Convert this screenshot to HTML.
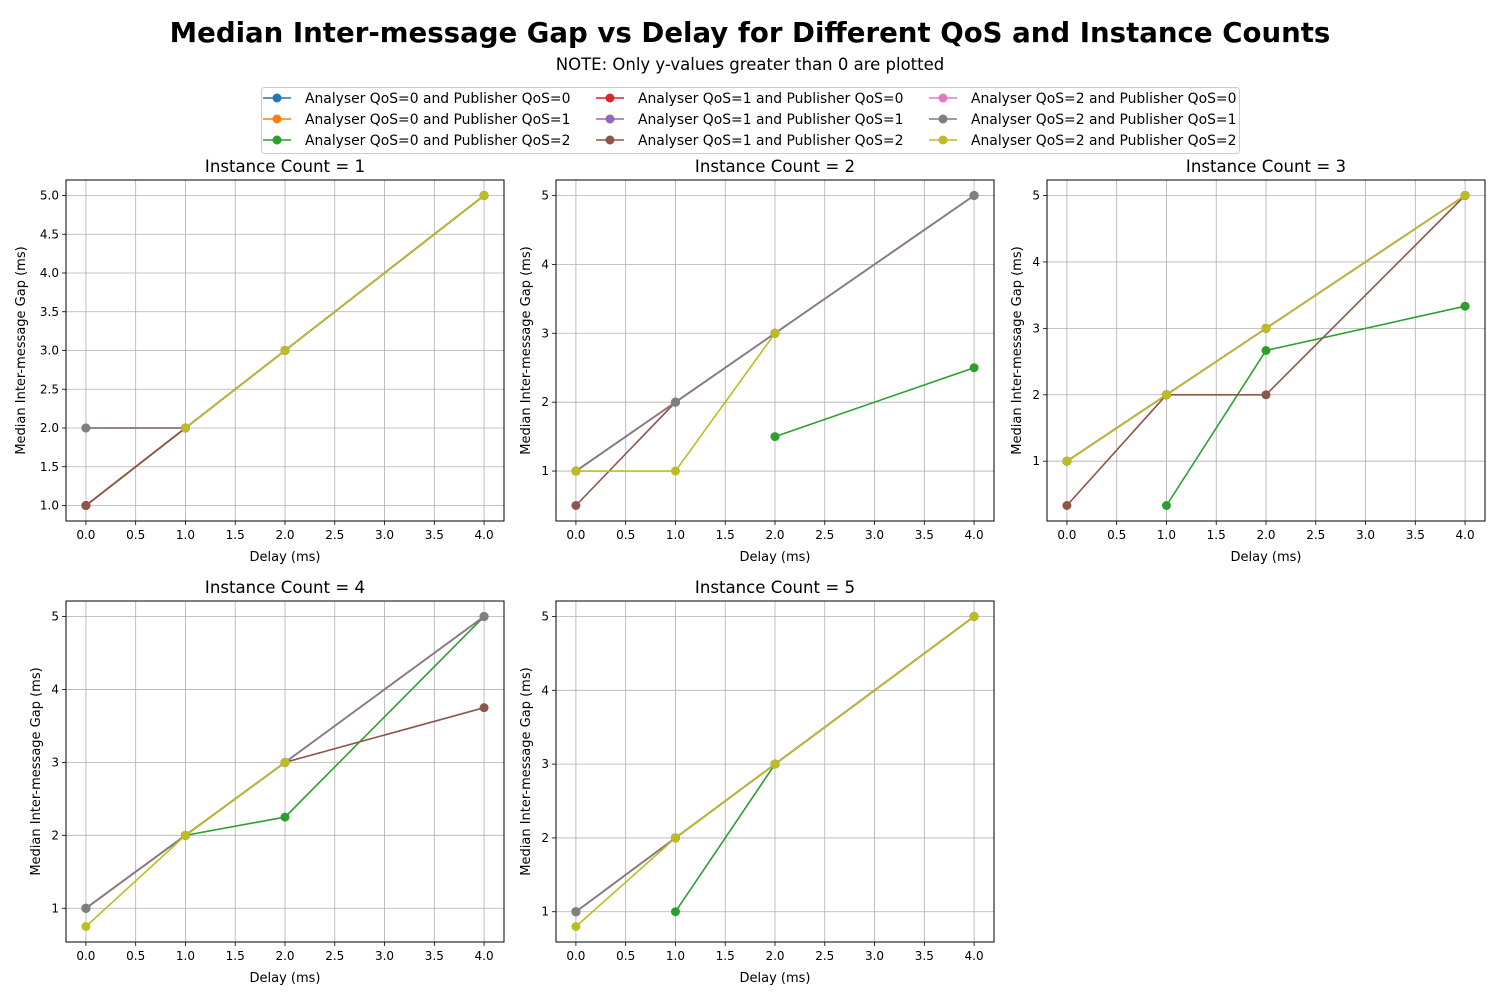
<!DOCTYPE html>
<html><head><meta charset="utf-8"><style>
body{margin:0;background:#fff;font-family:"Liberation Sans","DejaVu Sans",sans-serif}
</style></head><body>
<svg id="fig" width="1500" height="1000" xmlns="http://www.w3.org/2000/svg" font-family="DejaVu Sans, Liberation Sans, sans-serif">
<rect width="1500" height="1000" fill="#fff"/>
<text x="750" y="42" text-anchor="middle" font-size="27.6" font-weight="bold">Median Inter-message Gap vs Delay for Different QoS and Instance Counts</text>
<text x="750" y="70" text-anchor="middle" font-size="16.5">NOTE: Only y-values greater than 0 are plotted</text>
<g id="legend"></g>
<g id="plots"></g>
</svg>
<script>
const xs = [0, 1, 2, 4];
const seriesNames = ["Analyser QoS=0 and Publisher QoS=0","Analyser QoS=0 and Publisher QoS=1","Analyser QoS=0 and Publisher QoS=2","Analyser QoS=1 and Publisher QoS=0","Analyser QoS=1 and Publisher QoS=1","Analyser QoS=1 and Publisher QoS=2","Analyser QoS=2 and Publisher QoS=0","Analyser QoS=2 and Publisher QoS=1","Analyser QoS=2 and Publisher QoS=2"];
const colors = ["#1f77b4","#ff7f0e","#2ca02c","#d62728","#9467bd","#8c564b","#e377c2","#7f7f7f","#bcbd22"];
const panel1 = [[1,2,3,5],[1,2,3,5],[1,2,3,5],[1,2,3,5],[2,2,3,5],[1,2,3,5],[2,2,3,5],[2,2,3,5],[null,2,3,5]];
const panel2 = [[1,2,3,5],[1,2,3,5],[null,null,1.5,2.5],[1,2,3,5],[1,2,3,5],[0.5,2,3,5],[1,2,3,5],[1,2,3,5],[1,1,3,null]];
const panel3 = [[1,2,3,5],[1,2,3,5],[null,0.3333,2.6667,3.3333],[1,2,3,5],[1,2,3,5],[0.3333,2,2,5],[1,2,3,5],[1,2,3,5],[1,2,3,5]];
const panel4 = [[1,2,3,5],[1,2,3,5],[1,2,2.25,5],[1,2,3,5],[1,2,3,5],[1,2,3,3.75],[1,2,3,5],[1,2,3,5],[0.75,2,3,null]];
const panel5 = [[1,2,3,5],[1,2,3,5],[null,1,3,5],[1,2,3,5],[1,2,3,5],[1,2,3,5],[1,2,3,5],[1,2,3,5],[0.8,2,3,5]];
const panelData = [panel1, panel2, panel3, panel4, panel5];
const panelTitles = ["Instance Count = 1","Instance Count = 2","Instance Count = 3","Instance Count = 4","Instance Count = 5"];
const xTicks = [0,0.5,1,1.5,2,2.5,3,3.5,4];
const yTicks1 = [1,1.5,2,2.5,3,3.5,4,4.5,5];
const yTicksInt = [1,2,3,4,5];

const NS = "http://www.w3.org/2000/svg";
function mk(tag, attrs, parent){const e=document.createElementNS(NS,tag);for(const k in attrs)e.setAttribute(k,attrs[k]);parent.appendChild(e);return e;}

const lg = document.getElementById('legend');
const box = mk('rect',{x:261.5,y:87.5,width:978,height:66,rx:3,fill:'#fff',stroke:'#ccc'},lg);


seriesNames.forEach((n,i)=>{
  const col=Math.floor(i/3), row=i%3;
  const lx=263+col*333, ly=98+row*21;
  const g=mk('g',{},lg);
  
  
  mk('line',{x1:lx,y1:ly,x2:lx+28,y2:ly,stroke:colors[i],'stroke-width':1.5},g);
  mk('circle',{cx:lx+14,cy:ly,r:4.5,fill:colors[i]},g);
  const t=mk('text',{x:lx+42,y:ly+5,'font-size':13.9},g);
  t.textContent=n;
});

const plots=document.getElementById('plots');
const lefts=[66,556,1047,66,556], tops=[180,180,180,601,601];
const W=438,H=341;
panelData.forEach((data,p)=>{
  const L=lefts[p],T=tops[p];
  const g=mk('g',{},plots);
  
  
  let vals=[];data.forEach(s=>s.forEach(v=>{if(v!==null)vals.push(v);}));
  const mn=Math.min(...vals),mx=Math.max(...vals),m=(mx-mn)*0.05;
  const y0=mn-m,y1=mx+m;
  const X=v=>L+(v+0.2)/4.4*W;
  const Y=v=>T+H-(v-y0)/(y1-y0)*H;
  const yt=p===0?yTicks1:yTicksInt;
  xTicks.forEach(v=>{
    mk('line',{x1:X(v),y1:T,x2:X(v),y2:T+H,stroke:'#b0b0b0','stroke-width':0.8},g);
    mk('line',{x1:X(v),y1:T+H,x2:X(v),y2:T+H+4,stroke:'#000','stroke-width':0.8},g);
    const t=mk('text',{x:X(v),y:T+H+18,'text-anchor':'middle','font-size':12},g);
    
    
    t.textContent=v.toFixed(1);
  });
  yt.forEach(v=>{
    mk('line',{x1:L,y1:Y(v),x2:L+W,y2:Y(v),stroke:'#b0b0b0','stroke-width':0.8},g);
    mk('line',{x1:L-4,y1:Y(v),x2:L,y2:Y(v),stroke:'#000','stroke-width':0.8},g);
    const t=mk('text',{x:L-7,y:Y(v)+4,'text-anchor':'end','font-size':12},g);
    
    
    t.textContent=p===0?v.toFixed(1):String(v);
  });
  data.forEach((s,i)=>{
    const pts=[];s.forEach((v,j)=>{if(v!==null)pts.push([X(xs[j]),Y(v)]);});
    const sg=mk('g',{},g);
    
    
    mk('polyline',{points:pts.map(q=>q.join(',')).join(' '),fill:'none',stroke:colors[i],'stroke-width':1.6},sg);
    pts.forEach(q=>{const c=mk('circle',{cx:q[0],cy:q[1],r:4.5,fill:colors[i]},sg);
      
      });
  });
  mk('rect',{x:L,y:T,width:W,height:H,fill:'none',stroke:'#000','stroke-width':1},g);
  const tt=mk('text',{x:L+W/2,y:T-8,'text-anchor':'middle','font-size':16.6},g);
  
  
  tt.textContent=panelTitles[p];
  const xl=mk('text',{x:L+W/2,y:T+H+40,'text-anchor':'middle','font-size':13},g);
  
  
  xl.textContent='Delay (ms)';
  const yx=L-(p===0?41:26),yy=T+H/2;
  const yl=mk('text',{x:yx,y:yy,'text-anchor':'middle','font-size':13,transform:`rotate(-90 ${yx} ${yy})`},g);
  
  
  yl.textContent='Median Inter-message Gap (ms)';
});
</script>
</body></html>
